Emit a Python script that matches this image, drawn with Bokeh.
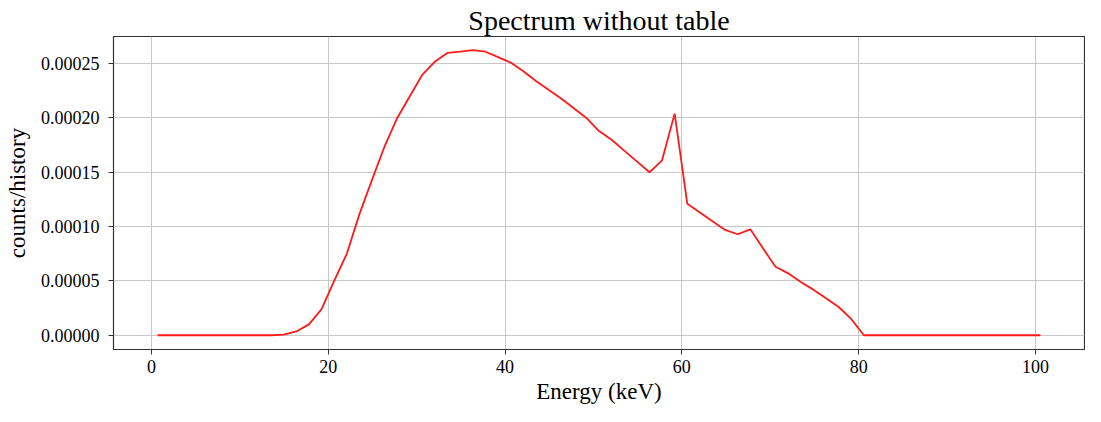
from bokeh.plotting import figure
from bokeh.models import Range1d, FixedTicker, PrintfTickFormatter
from bokeh.embed import file_html
from bokeh.resources import INLINE

energy_kev = [0.70, 2.13, 3.55, 4.98, 6.41, 7.83, 9.26, 10.69, 12.11, 13.54,
              14.97, 16.39, 17.82, 19.25, 20.67, 22.10, 23.53, 24.95, 26.38, 27.81,
              29.23, 30.66, 32.09, 33.51, 34.94, 36.37, 37.79, 39.22, 40.64, 42.07,
              43.50, 44.92, 46.35, 47.78, 49.20, 50.63, 52.06, 53.48, 54.91, 56.34,
              57.76, 59.19, 60.62, 62.04, 63.47, 64.90, 66.32, 67.75, 69.18, 70.60,
              72.03, 73.46, 74.88, 76.31, 77.74, 79.16, 80.59, 82.02, 83.44, 84.87,
              86.30, 87.72, 89.15, 90.58, 92.00, 93.43, 94.86, 96.28, 97.71, 99.14,
              100.56]

counts_per_history = [0.0, 0.0, 0.0, 0.0, 0.0, 0.0, 0.0, 0.0, 0.0, 0.0002e-5,
                      0.05e-5, 0.35e-5, 1.0e-5, 2.4e-5, 5.0e-5, 7.5e-5, 11.15e-5, 14.3e-5, 17.4e-5, 20.0e-5,
                      22.0e-5, 24.0e-5, 25.2e-5, 26.0e-5, 26.1e-5, 26.25e-5, 26.1e-5, 25.6e-5, 25.1e-5, 24.3e-5,
                      23.4e-5, 22.6e-5, 21.8e-5, 20.9e-5, 20.0e-5, 18.8e-5, 18.0e-5, 17.0e-5, 16.0e-5, 15.0e-5,
                      16.1e-5, 20.4e-5, 12.1e-5, 11.3e-5, 10.5e-5, 9.7e-5, 9.3e-5, 9.75e-5, 8.0e-5, 6.3e-5,
                      5.7e-5, 4.9e-5, 4.2e-5, 3.4e-5, 2.6e-5, 1.5e-5, 0.0, 0.0, 0.0, 0.0,
                      0.0, 0.0, 0.0, 0.0, 0.0, 0.0, 0.0, 0.0, 0.0, 0.0,
                      0.0]

x_ticks = [0, 20, 40, 60, 80, 100]
y_ticks = [0.0, 0.00005, 0.00010, 0.00015, 0.00020, 0.00025]

FONT = "Liberation Serif"

p = figure(width=1085, height=406, output_backend="svg", toolbar_location=None,
           x_range=Range1d(-4.29, 105.55), y_range=Range1d(-0.0000131, 0.000275),
           min_border_left=113, min_border_right=1, min_border_top=36, min_border_bottom=55,
           title="Spectrum without table")

p.line(energy_kev, counts_per_history, line_color="#ff1a1a", line_width=1.8)

p.title.align = "center"
p.title.text_font = FONT
p.title.text_font_size = "28px"
p.title.text_font_style = "normal"
p.title.text_color = "black"
p.title.standoff = 2

p.outline_line_color = "#333333"
p.outline_line_width = 1.2
p.outline_line_alpha = 1.0

p.xaxis.ticker = FixedTicker(ticks=x_ticks)
p.yaxis.ticker = FixedTicker(ticks=y_ticks)
p.yaxis.formatter = PrintfTickFormatter(format="%.5f")

for ax in (p.xaxis, p.yaxis):
    ax.major_label_text_font = FONT
    ax.major_label_text_font_size = "18px"
    ax.major_label_text_color = "black"
    ax.axis_label_text_font = FONT
    ax.axis_label_text_font_size = "23px"
    ax.axis_label_text_font_style = "normal"
    ax.axis_label_text_color = "black"
    ax.axis_line_color = "#333333"
    ax.major_tick_line_color = "#333333"
    ax.major_tick_out = 5
    ax.major_tick_in = 0
    ax.minor_tick_line_color = None

p.xaxis.axis_label = "Energy (keV)"
p.yaxis.axis_label = "counts/history"
p.xaxis.major_label_standoff = 5
p.yaxis.major_label_standoff = 9
p.xaxis.axis_label_standoff = 3
p.yaxis.axis_label_standoff = 8

p.grid.grid_line_color = "#c8c8c8"
p.grid.grid_line_width = 1
p.xgrid.ticker = FixedTicker(ticks=x_ticks)
p.ygrid.ticker = FixedTicker(ticks=y_ticks)

p.background_fill_color = "white"
p.border_fill_color = "white"

open("out.html", "w").write(file_html(p, INLINE))
